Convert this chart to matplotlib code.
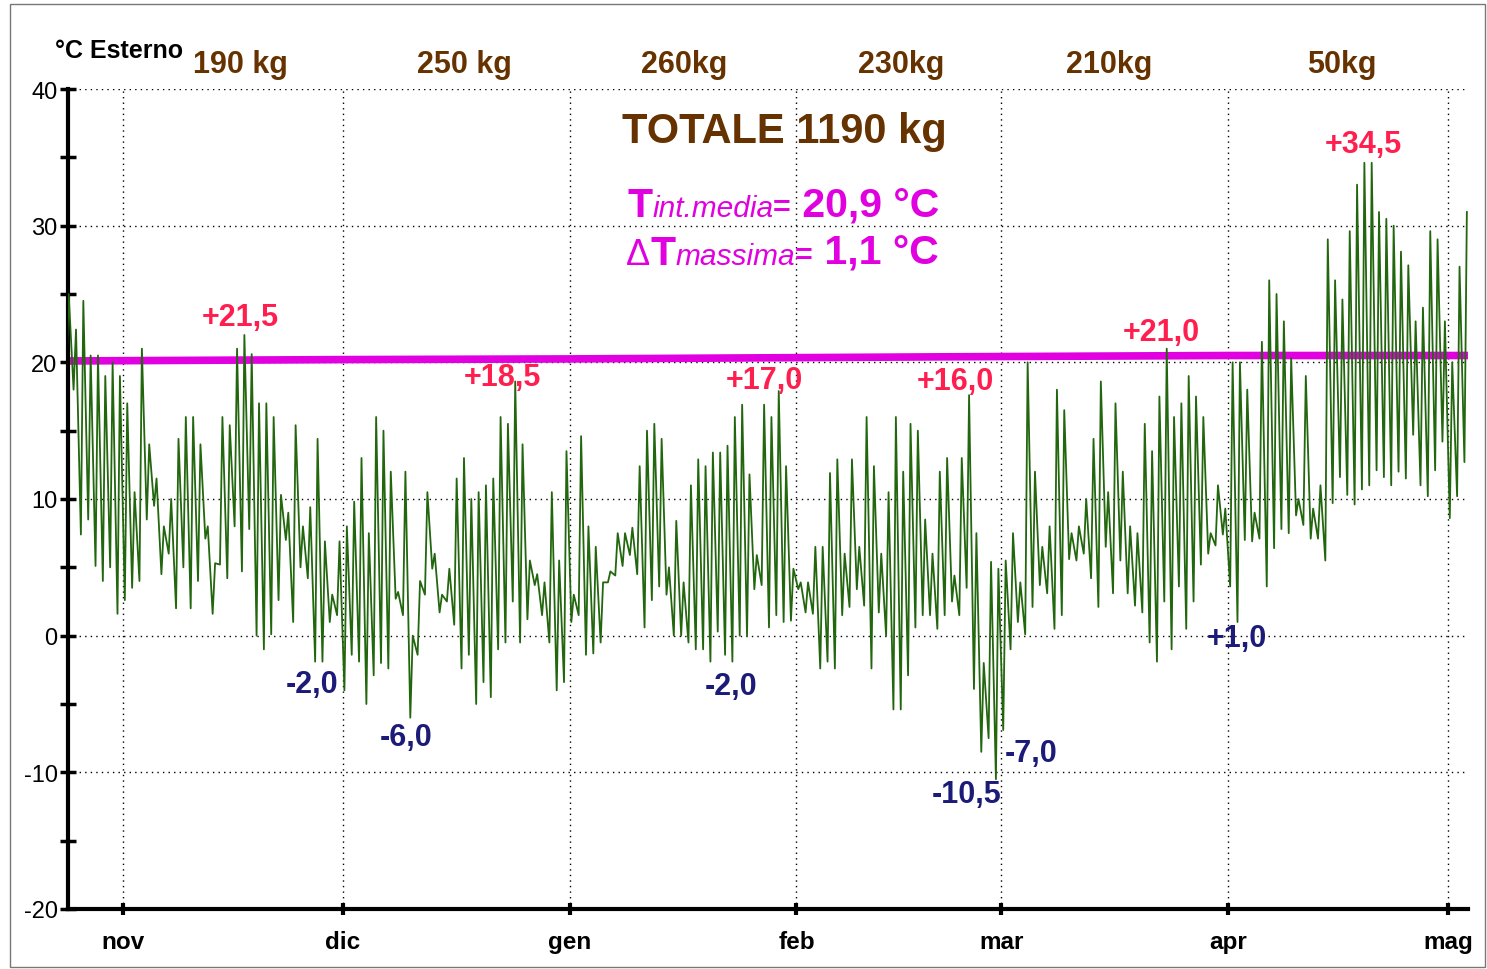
import numpy as np
import pandas as pd
import matplotlib
matplotlib.use("Agg")
import matplotlib.pyplot as plt
from matplotlib.ticker import MultipleLocator
from matplotlib.patches import Rectangle

plt.rcParams["font.family"] = ["Liberation Sans", "DejaVu Sans"]
plt.rcParams["axes.unicode_minus"] = False

# ── data ────────────────────────────────────────────────────────────────────
# outdoor temperature, daily minimum (early morning) and maximum (afternoon)
first_day = "2016-10-24"
oct_min = [19, 18, 7.4, 8.5, 5.1, 4, 5, 1.6]
oct_max = [25, 22.4, 24.5, 20.5, 20.5, 19, 20, 19]
nov_min = [2.6, 3.5, 4, 8.5, 9.5, 4.5, 6, 2, 5, 2,
           4, 7.1, 1.6, 5.2, 4.2, 8, 4.7, 7.8, 0, -1,
           0.1, 2.6, 7, 1, 5, 4.2, -1.9, -1.9, 1, 1.5]
nov_max = [17, 10.5, 21, 14, 11.5, 8, 10, 14.4, 16, 16,
           14, 8, 5.3, 16, 15.4, 21, 22, 20.6, 17, 17,
           16, 10.3, 9, 15.4, 8, 9.4, 14.4, 6.9, 3, 6.9]
dec_min = [-4, -1.4, -1.9, -5, -2.9, -2, -2.4, 2.7, 1.5, -6,
           -1.4, 3, 4.9, 1.7, 2.5, 0.8, -2.4, -1.4, -5, -3.4,
           -4.5, -1, -0.5, 2.5, -0.5, 1.2, 3.7, 1.5, -0.5, -4, -3.4]
dec_max = [8, 9.8, 13, 7.5, 16, 15, 12, 3.2, 12, 0,
           4, 10.5, 6, 3, 4.9, 11.5, 13, 10, 10.5, 11,
           11.5, 16, 15.5, 18.6, 14, 5.5, 4.5, 3.9, 10.5, 5.5, 13.5]
jan_min = [1, 1.5, -1.4, -1.3, -0.5, 3.9, 4.4, 5.1, 5.9, 4.5,
           0.6, 2.6, 3.6, 3, 0, 0, -0.5, -1, -1, -1.9,
           0.3, -1.4, -1.9, 0, 0, 3.4, 3.7, 0.6, 1.5, 1, 1.1]
jan_max = [3, 14.6, 8, 6.5, 3.9, 4.7, 7.5, 7.5, 7.9, 12.4,
           15, 15.5, 14.4, 5, 8.4, 3.9, 11, 12.9, 12.4, 13.4,
           13.4, 13.9, 16, 16.9, 11.8, 5.9, 16.9, 16, 17.9, 12.4, 4.9]
feb_min = [3.4, 1.7, 1.6, -2.4, -1.9, -2.4, 1.5, 2.1, 3.4, 2.2,
           -2.4, 1.7, 0, -5.4, -5.4, -2.9, 0.6, 1.5, 1.5, 0.5,
           1.5, 2.5, 1.5, 3.5, -3.9, -8.5, -7.5, -10.5]
feb_max = [3.9, 3.9, 6.5, 6.5, 11.9, 12.9, 6, 12.9, 6.5, 16,
           12.4, 6, 10.5, 16, 12, 15.5, 15, 8.5, 6, 12,
           13, 4.4, 13, 17.6, 7.5, -2, 5.4, 4.9]
mar_min = [-6.9, -1, 1, 0.1, 2.1, 3.7, 3.1, 0.5, 1.5, 5.6,
           5.5, 6, 4.2, 2.1, 6.5, 3.1, 5.5, 3.1, 2.2, 1.7,
           -0.5, -1.9, 2.5, -1, 3.6, 0.5, 2.5, 5.2, 6, 6.6, 7.4]
mar_max = [5.5, 7.5, 3.9, 20, 12, 6.5, 8, 18, 16.5, 7.5,
           8, 10, 14.4, 18.6, 10.5, 17, 12, 8, 7.5, 15.5,
           13.5, 17.5, 21, 16, 17, 19, 17.5, 16, 7.5, 11, 9.3]
apr_min = [3.6, 1, 7, 6.9, 7.1, 3.6, 6.4, 7.8, 7.5, 8.8,
           8.1, 7.1, 7.1, 5.5, 9.7, 11.6, 10.3, 9.6, 10.7, 11,
           12.1, 11.6, 11, 12, 11.5, 14.7, 11, 10.2, 12.1, 14.2]
apr_max = [20, 20, 18, 9, 21.5, 26, 25, 23, 20.3, 10,
           19, 9.3, 11, 29, 26, 24.6, 29.6, 33, 34.6, 34.6,
           31, 30.5, 30, 28.1, 27.1, 23, 24, 29.6, 29, 23]
may_min = [8.6, 10.2, 12.7]
may_max = [20, 27, 31]

# indoor mean temperature (magenta line)
indoor_dates = ["2016-10-24", "2016-12-01", "2017-01-01", "2017-02-20",
                "2017-04-01", "2017-05-04"]
indoor_vals = [20.1, 20.2, 20.25, 20.4, 20.5, 20.5]

month_ticks = ["2016-11-01", "2016-12-01", "2017-01-01", "2017-02-01",
               "2017-03-01", "2017-04-01", "2017-05-01"]
month_labels = ["nov", "dic", "gen", "feb", "mar", "apr", "mag"]

# pellet used per month, written above the plot
kg_dates = ["2016-11-17 00:00", "2016-12-17 14:00", "2017-01-16 17:00",
            "2017-02-15 07:00", "2017-03-15 17:00", "2017-04-16 12:00"]
kg_labels = ["190 kg", "250 kg", "260kg", "230kg", "210kg", "50kg"]

# extreme values written on the chart: (text, date, temperature)
max_notes = [("+21,5", "2016-11-17 02:00", 23.3),
             ("+18,5", "2016-12-22 19:00", 18.9),
             ("+17,0", "2017-01-27 15:00", 18.7),
             ("+16,0", "2017-02-22 17:00", 18.6),
             ("+21,0", "2017-03-22 19:00", 22.2),
             ("+34,5", "2017-04-19 10:00", 36.0)]
min_notes = [("-2,0", "2016-11-26 19:00", -3.5),
             ("-6,0", "2016-12-09 15:00", -7.4),
             ("-2,0", "2017-01-23 02:00", -3.65),
             ("-10,5", "2017-02-24 07:00", -11.6),
             ("-7,0", "2017-03-05 02:00", -8.6),
             ("+1,0", "2017-04-02 05:30", -0.2)]

# ── colours ─────────────────────────────────────────────────────────────────
GREEN = "#22660e"
MAGENTA = "#e000e0"
BROWN = "#663300"
RED = "#ff1f4f"
NAVY = "#1c1c78"

W, H, DPI = 1487, 970, 100

t_min = oct_min + nov_min + dec_min + jan_min + feb_min + mar_min + apr_min + may_min
t_max = oct_max + nov_max + dec_max + jan_max + feb_max + mar_max + apr_max + may_max
days = pd.date_range(first_day, periods=len(t_min), freq="D")
times = np.empty(2 * len(days), dtype="datetime64[ns]")
times[0::2] = (days + pd.Timedelta(hours=6)).values
times[1::2] = (days + pd.Timedelta(hours=14)).values
temps = np.empty(2 * len(days))
temps[0::2] = t_min
temps[1::2] = t_max

fig = plt.figure(figsize=(W / DPI, H / DPI), dpi=DPI)
ax = fig.add_axes([68 / W, 60 / H, 1400 / W, 820 / H])

ax.plot(pd.to_datetime(indoor_dates), indoor_vals, color=MAGENTA, lw=5.5,
        solid_capstyle="butt", zorder=2)
ax.plot(times, temps, color=GREEN, lw=1.3, zorder=3)

ax.set_xlim(pd.Timestamp("2016-10-24 11:45"), pd.Timestamp("2017-05-03 17:45"))
ax.set_ylim(-20, 40)

ax.set_xticks(pd.to_datetime(month_ticks))
ax.set_xticklabels(month_labels)
ax.yaxis.set_major_locator(MultipleLocator(10))
ax.yaxis.set_minor_locator(MultipleLocator(5))

for s in ("top", "right"):
    ax.spines[s].set_visible(False)
for s in ("left", "bottom"):
    ax.spines[s].set_linewidth(3)
ax.grid(True, which="major", color="black", lw=1, linestyle=(0, (1, 3)))
ax.tick_params(axis="y", which="both", direction="inout", length=11,
               width=2.5, labelsize=17, pad=2)
ax.tick_params(axis="x", direction="inout", length=8, width=3,
               labelsize=17.5, pad=11)
for lab in ax.get_xticklabels():
    lab.set_fontweight("bold")

# top labels
fig.text(55 / W, 1 - 58 / H, "°C Esterno", fontsize=18, fontweight="bold",
         va="baseline", ha="left")
for d, lab in zip(kg_dates, kg_labels):
    ax.annotate(lab, xy=(pd.Timestamp(d), 40), xytext=(0, 17),
                textcoords="offset pixels", ha="center", va="baseline",
                fontsize=22, fontweight="bold", color=BROWN,
                annotation_clip=False)

fig.text(784 / W, 1 - 143 / H, "TOTALE 1190 kg", fontsize=30,
         fontweight="bold", color=BROWN, ha="center", va="baseline")

for txt, d, v in max_notes:
    ax.text(pd.Timestamp(d), v, txt, color=RED, fontsize=22,
            fontweight="bold", ha="center", va="center", zorder=4)
for txt, d, v in min_notes:
    ax.text(pd.Timestamp(d), v, txt, color=NAVY, fontsize=22,
            fontweight="bold", ha="center", va="center", zorder=4)

# indoor temperature summary, built from text runs of mixed style
renderer = fig.canvas.get_renderer()


def text_runs(x, y, parts):
    for s, size, weight, style in parts:
        t = fig.text(x / W, 1 - y / H, s, fontsize=size, fontweight=weight,
                     fontstyle=style, color=MAGENTA, ha="left", va="baseline")
        x += t.get_window_extent(renderer).width


text_runs(627, 217, [("T", 29.5, "bold", "normal"),
                     ("int.media", 21.5, "normal", "italic"),
                     ("=", 22, "bold", "normal"),
                     (" 20,9 °C", 29.5, "bold", "normal")])
text_runs(626, 265, [("\u0394", 26, "normal", "normal"),
                     ("T", 29.5, "bold", "normal"),
                     ("massima", 21.5, "normal", "italic"),
                     ("=", 22, "bold", "normal"),
                     (" 1,1 °C", 29.5, "bold", "normal")])

fig.patches.append(Rectangle((10 / W, 2 / H), 1475 / W, 963 / H,
                             transform=fig.transFigure, fill=False,
                             edgecolor="#777777", lw=1))

fig.savefig("out.png", dpi=DPI)
